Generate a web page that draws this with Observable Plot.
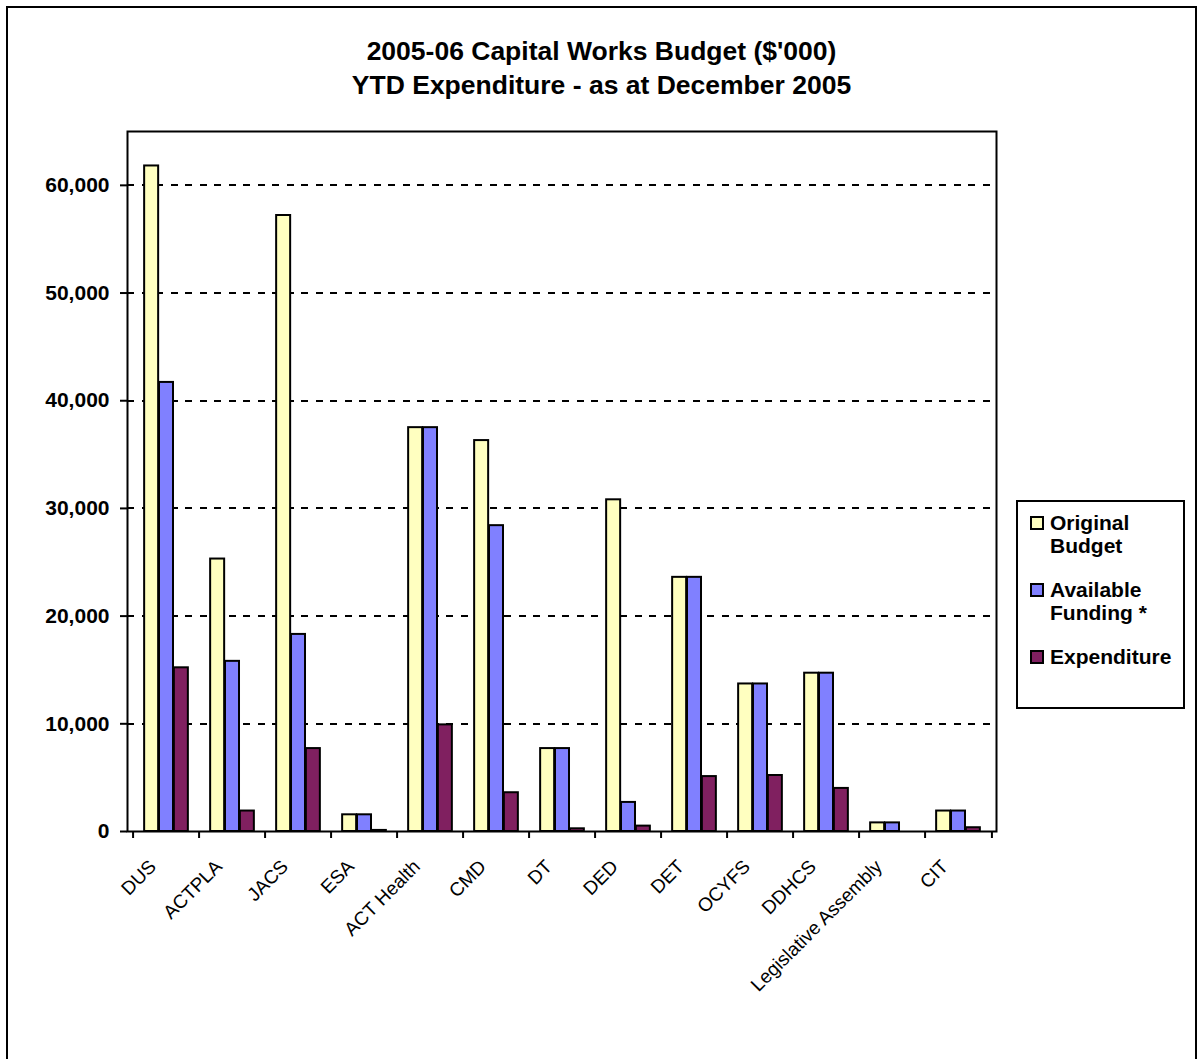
<!DOCTYPE html>
<html>
<head>
<meta charset="utf-8">
<script src="https://cdn.jsdelivr.net/npm/d3@7"></script>
<script src="https://cdn.jsdelivr.net/npm/@observablehq/plot@0.6"></script>
<style>
  body { margin: 0; background: #fff; }
  #wrap { position: relative; width: 1197px; height: 1059px; overflow: hidden;
          font-family: "Liberation Sans", Arial, sans-serif; color: #000; }
  #border { position: absolute; left: 6px; top: 6px; width: 1191px; height: 1100px;
            border: 2px solid #000; box-sizing: border-box; }
  #title { position: absolute; left: 6px; top: 34px; width: 1191px; text-align: center;
           font-weight: bold; font-size: 26.5px; line-height: 34px; }
  #chart { position: absolute; left: 0; top: 100px; }
  #legend { position: absolute; left: 1016px; top: 500px; width: 169px; height: 209px;
            border: 2px solid #000; box-sizing: border-box; background: #fff; }
  .item { position: absolute; left: 0; font-weight: bold; font-size: 21px; line-height: 23.3px; }
  .sw { position: absolute; left: 12px; top: 4.8px; width: 14px; height: 14px;
        border: 2px solid #000; box-sizing: border-box; }
  .lab { position: absolute; left: 32px; top: 0; width: 133px; }
</style>
</head>
<body>
<div id="wrap">
  <div id="border"></div>
  <div id="title">2005-06 Capital Works Budget ($'000)<br>YTD Expenditure - as at December 2005</div>
  <div id="chart"></div>
  <div id="legend"></div>
</div>
<script>
// Agencies along the x axis
const categories = ["DUS", "ACTPLA", "JACS", "ESA", "ACT Health", "CMD", "DT", "DED",
                    "DET", "OCYFS", "DDHCS", "Legislative Assembly", "CIT"];

// Series values, $'000
const originalBudget   = [61800, 25300, 57200, 1550, 37500, 36300, 7700, 30800, 23600, 13700, 14700, 800, 1900];
const availableFunding = [41700, 15800, 18300, 1550, 37500, 28400, 7700, 2700, 23600, 13700, 14700, 800, 1900];
const expenditure      = [15200, 1900, 7700, 100, 9900, 3600, 250, 500, 5100, 5200, 4000, 0, 350];

const seriesNames = ["Original Budget", "Available Funding *", "Expenditure"];
const seriesColors = ["#FFFFC0", "#8080FF", "#802060"];

// Value axis ticks
const yTicks = [0, 10000, 20000, 30000, 40000, 50000, 60000];

const seriesValues = [originalBudget, availableFunding, expenditure];
const rows = seriesNames.map((s, k) =>
  categories.map((c, i) => ({category: c, series: s, value: seriesValues[k][i]})));

const W = 1197, H = 960;
const margin = {top: 31, right: 201, bottom: 229, left: 127};
const bw = (W - margin.left - margin.right) / categories.length; // width of one agency group
const gap = 1.5;                          // space between groups, in bar widths
const slots = seriesNames.length + gap;   // group width in bar widths

const font = "Liberation Sans, Arial, sans-serif";

const chart = Plot.plot({
  width: W,
  height: H,
  marginTop: margin.top,
  marginRight: margin.right,
  marginBottom: margin.bottom,
  marginLeft: margin.left,
  style: {fontFamily: font, color: "#000", background: "transparent", overflow: "visible"},
  x: {type: "band", domain: categories, padding: 0, label: null},
  y: {domain: [0, 65000], label: null},
  marks: [
    Plot.gridY({ticks: yTicks.slice(1), stroke: "#000", strokeOpacity: 1, strokeWidth: 2,
                strokeDasharray: "7,7.5", shapeRendering: "crispEdges"}),
    ...rows.map((data, k) => Plot.barY(data, {
      x: "category",
      y: "value",
      fill: seriesColors[k],
      stroke: "#000",
      strokeWidth: 2,
      insetLeft: bw * (gap / 2 + k) / slots,
      insetRight: bw * (slots - gap / 2 - k - 1) / slots,
      title: d => `${d.category} – ${d.series}: ${d3.format(",")(d.value)}`
    })),
    Plot.frame({stroke: "#000", strokeWidth: 2}),
    Plot.axisY({ticks: yTicks, tickSize: 7, tickPadding: 11, tickFormat: d3.format(","),
                fontSize: 21, fontWeight: "bold", strokeWidth: 2}),
    // tick marks sit between the agency groups
    Plot.axisX({ticks: categories, tickSize: 7, tickFormat: () => "", dx: -bw / 2, strokeWidth: 2}),
    Plot.axisX({ticks: categories.slice(-1), tickSize: 7, tickFormat: () => "", dx: bw / 2, strokeWidth: 2}),
    Plot.axisX({tickSize: 0, tickPadding: 32, tickRotate: -45, fontSize: 19, dx: -13.5})
  ]
});
document.getElementById("chart").appendChild(chart);

// Legend
const legend = document.getElementById("legend");
seriesNames.forEach((name, k) => {
  const item = document.createElement("div");
  item.className = "item";
  item.style.top = (9.2 + 67 * k) + "px";
  const sw = document.createElement("div");
  sw.className = "sw";
  sw.style.background = seriesColors[k];
  const lab = document.createElement("div");
  lab.className = "lab";
  lab.textContent = name;
  item.appendChild(sw);
  item.appendChild(lab);
  legend.appendChild(item);
});
</script>
</body>
</html>
